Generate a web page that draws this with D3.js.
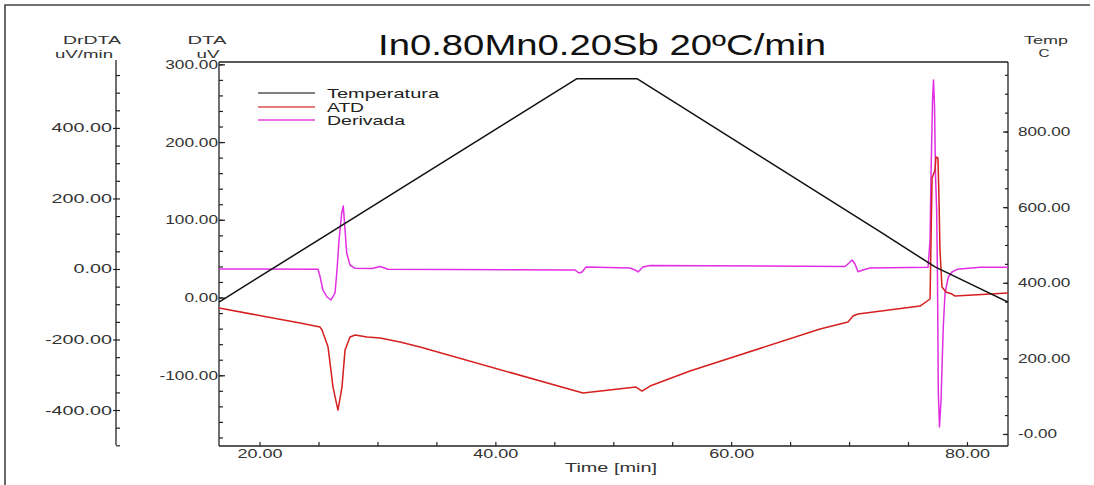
<!DOCTYPE html>
<html><head><meta charset="utf-8">
<script src="https://cdn.jsdelivr.net/npm/d3@7"></script>
<style>
body{margin:0;background:#fff}
text{font-family:"Liberation Sans",Arial,sans-serif}
</style>
</head><body>
<svg id="c" width="1094" height="485"></svg>
<script>
// ---------------- data ----------------
const chartTitle = "In0.80Mn0.20Sb 20ºC/min";
const seriesNames = ["Temperatura", "ATD", "Derivada"];

const tempTime   = [16.56, 46.92, 52.01, 72.62, 77.29, 83.48];
const tempValues = [349, 940, 940, 535, 442, 349];

const atdTime = [16.56, 23.43, 25.13, 25.30, 25.81, 26.23, 26.65, 26.99, 27.25, 27.67, 28.10, 29.11, 30.22, 31.91, 33.61,
  47.43, 51.93, 52.44, 53.12, 56.51, 67.54, 69.91, 70.33, 70.76, 76.02, 76.87, 76.95, 77.04, 77.29, 77.37, 77.54,
  77.63, 77.71, 77.88, 78.22, 78.73, 78.99, 83.48];
const atdValues = [-13.5, -32.8, -38.0, -41.8, -63.7, -115.2, -144.8, -115.2, -67.6, -50.8, -48.3, -50.8, -52.1, -57.2, -63.7,
  -122.9, -115.2, -120.3, -113.9, -94.6, -40.5, -31.5, -23.8, -21.2, -11.0, -1.9, 74.0, 153.8, 164.1, 180.8, 179.5,
  125.5, 61.1, 13.5, 7.1, 4.5, 1.9, 5.8];

const derTime = [16.56, 24.96, 25.13, 25.38, 25.72, 26.06, 26.40, 26.57, 26.74, 26.97, 27.10, 27.25, 27.39, 27.67, 28.10,
  29.54, 30.22, 30.89, 46.76, 47.09, 47.35, 47.69, 51.42, 51.84, 52.10, 52.52, 53.12, 69.66, 70.00, 70.25, 70.50,
  70.76, 71.18, 71.78, 76.70, 76.87, 76.95, 77.08, 77.16, 77.25, 77.33, 77.43, 77.50, 77.57, 77.67, 77.80, 77.99,
  78.14, 78.42, 78.73, 79.16, 81.11, 83.48];
const derValues = [0, -0.9, -21.8, -59.6, -79.4, -87.9, -68.1, -2.8, 82.3, 158.9, 178.7, 110.6, 45.4, 11.3, 2.0,
  1.4, 7.1, -0.9, -2.8, -11.3, -8.5, 5.7, 2.8, -2.8, -8.5, 5.7, 9.9, 7.1, 17.0, 25.5, 14.2,
  -7.7, -2.8, 2.8, 4.8, 82.3, 266.7, 479.4, 536.2, 459.6, 266.7, 167.4, -31.2, -351.8, -448.2, -371.6, -164.5,
  -68.1, -22.7, -8.5, -0.9, 4.8, 4.8];

const xDomain = [16.56, 83.48];
const dtaDomain = [-191, 303];
const drDomain = [-502, 587];
const tempDomain = [-31.8, 984];

const xTicks = [20, 40, 60, 80];
const xTickLabels = ["20.00", "40.00", "60.00", "80.00"];
const dtaTicks = [-100, 0, 100, 200, 300];
const dtaTickLabels = ["-100.00", "0.00", "100.00", "200.00", "300.00"];
const drTicks = [-400, -200, 0, 200, 400];
const drTickLabels = ["-400.00", "-200.00", "0.00", "200.00", "400.00"];
const tempTicks = [0, 200, 400, 600, 800];
const tempTickLabels = ["-0.00", "200.00", "400.00", "600.00", "800.00"];

// ---------------- layout ----------------
const L = 219, R = 1008, T = 62, B = 446;
const DRX = 116;
const svg = d3.select("#c");

const x = d3.scaleLinear().domain(xDomain).range([L, R]);
const yDTA = d3.scaleLinear().domain(dtaDomain).range([B, T]);
const yDr = d3.scaleLinear().domain(drDomain).range([B, T]);
const yT = d3.scaleLinear().domain(tempDomain).range([B, T]);

function stretch(sel, k) {
  sel.each(function () {
    const w = this.getComputedTextLength();
    if (w > 0) {
      this.setAttribute("textLength", (w * k).toFixed(1));
      this.setAttribute("lengthAdjust", "spacingAndGlyphs");
    }
  });
}
function styleAxis(g) {
  g.attr("font-family", null).attr("font-size", null);
  g.selectAll("path.domain").remove();
  g.selectAll("line").attr("stroke", "#222").attr("stroke-width", 1.2);
  g.selectAll("text").attr("fill", "#333").style("font-size", "12.5px");
}
const range = (a, b, s) => d3.range(a, b + s / 2, s);

// outer frame
svg.append("path").attr("d", `M5,485V5H1090`).attr("fill", "none").attr("stroke", "#444").attr("stroke-width", 1.6);

// plot frame lines
const axisColor = "#222";
svg.append("line").attr("x1", L).attr("x2", R).attr("y1", T).attr("y2", T).attr("stroke", axisColor).attr("stroke-width", 1.3);
svg.append("line").attr("x1", L).attr("x2", R).attr("y1", B).attr("y2", B).attr("stroke", axisColor).attr("stroke-width", 1.3);
svg.append("line").attr("x1", L).attr("x2", L).attr("y1", T).attr("y2", B).attr("stroke", axisColor).attr("stroke-width", 1.3);
svg.append("line").attr("x1", R).attr("x2", R).attr("y1", T).attr("y2", B).attr("stroke", axisColor).attr("stroke-width", 1.3);
svg.append("line").attr("x1", DRX).attr("x2", DRX).attr("y1", T - 2).attr("y2", B - 1).attr("stroke", axisColor).attr("stroke-width", 1.3);

// ---- DrDTA axis ----
svg.append("g").attr("transform", `translate(${DRX},0)`)
  .call(d3.axisRight(yDr).tickValues(range(-500, 550, 50)).tickSize(4).tickFormat(""))
  .call(styleAxis);
svg.append("g").attr("transform", `translate(${DRX},0)`)
  .call(d3.axisLeft(yDr).tickValues(drTicks).tickSize(3).tickPadding(1)
    .tickFormat((d, i) => drTickLabels[i]))
  .call(styleAxis)
  .call(g => stretch(g.selectAll("text"), 1.58));

// ---- DTA axis ----
svg.append("g").attr("transform", `translate(${L},0)`)
  .call(d3.axisRight(yDTA).tickValues(range(-180, 300, 20)).tickSize(4).tickFormat(""))
  .call(styleAxis);
svg.append("g").attr("transform", `translate(${L},0)`)
  .call(d3.axisRight(yDTA).tickValues(dtaTicks).tickSize(6).tickFormat(""))
  .call(styleAxis);
svg.append("g").attr("transform", `translate(${L},0)`)
  .call(d3.axisLeft(yDTA).tickValues(dtaTicks).tickSize(0).tickPadding(1)
    .tickFormat((d, i) => dtaTickLabels[i]))
  .call(styleAxis)
  .call(g => stretch(g.selectAll("text"), 1.38));

// ---- Temp axis ----
svg.append("g").attr("transform", `translate(${R},0)`)
  .call(d3.axisLeft(yT).tickValues(range(0, 950, 50)).tickSize(3).tickFormat(""))
  .call(styleAxis);
svg.append("g").attr("transform", `translate(${R},0)`)
  .call(d3.axisLeft(yT).tickValues(tempTicks).tickSize(5).tickFormat(""))
  .call(styleAxis);
svg.append("g").attr("transform", `translate(${R},0)`)
  .call(d3.axisRight(yT).tickValues(tempTicks).tickSize(0).tickPadding(10)
    .tickFormat((d, i) => tempTickLabels[i]))
  .call(styleAxis)
  .call(g => stretch(g.selectAll("text"), 1.37));

// ---- X axis ----
svg.append("g").attr("transform", `translate(0,${B})`)
  .call(d3.axisTop(x).tickValues(range(20, 80, 5)).tickSize(4).tickFormat(""))
  .call(styleAxis);
const xg = svg.append("g").attr("transform", `translate(0,${B})`)
  .call(d3.axisBottom(x).tickValues(xTicks).tickSize(0).tickPadding(2)
    .tickFormat((d, i) => xTickLabels[i]))
  .call(styleAxis);
xg.selectAll("text").attr("y", 12).attr("dy", null);
stretch(xg.selectAll("text"), 1.44);

// ---- axis titles ----
function label(txt, xx, yy, w, size, anchor, fill) {
  svg.append("text").attr("x", xx).attr("y", yy).attr("text-anchor", anchor || "middle")
    .attr("fill", fill || "#333").style("font-size", (size || 12.5) + "px")
    .attr("textLength", w).attr("lengthAdjust", "spacingAndGlyphs").text(txt);
}
label("DrDTA", 92, 44, 58, 11.5);
label("uV/min", 84, 57.5, 58, 11.5);
label("DTA", 207, 44, 39, 11.5);
label("uV", 208, 57.5, 23, 11.5);
label("Temp", 1046, 44, 44, 11.5);
label("C", 1044, 57, 11, 11.5);
label("Time [min]", 611, 472, 92);
label(chartTitle, 602, 55, 448, 29, "middle", "#111");

// ---- series ----
const defs = svg.append("defs");
defs.append("clipPath").attr("id", "clip").append("rect")
  .attr("x", L).attr("y", T).attr("width", R - L).attr("height", B - T);
const plot = svg.append("g").attr("clip-path", "url(#clip)");

const colors = ["#111111", "#d61f1f", "#e22ee2"];

const derLine = d3.line().x((d, i) => x(derTime[i])).y(d => yDr(d));
const atdLine = d3.line().x((d, i) => x(atdTime[i])).y(d => yDTA(d));
const tLine = d3.line().x((d, i) => x(tempTime[i])).y(d => yT(d));

plot.append("path").attr("d", derLine(derValues)).attr("fill", "none")
  .attr("stroke", colors[2]).attr("stroke-width", 1.5).attr("stroke-linejoin", "round");
plot.append("path").attr("d", atdLine(atdValues)).attr("fill", "none")
  .attr("stroke", colors[1]).attr("stroke-width", 1.5).attr("stroke-linejoin", "round");
plot.append("path").attr("d", tLine(tempValues)).attr("fill", "none")
  .attr("stroke", colors[0]).attr("stroke-width", 1.5).attr("stroke-linejoin", "round");

// ---- legend ----
const legY = [93, 107, 120];
const legW = [112, 37, 78];
const legColors = ["#555", "#e05050", "#e040e0"];
seriesNames.forEach((n, i) => {
  svg.append("line").attr("x1", 258).attr("x2", 315).attr("y1", legY[i]).attr("y2", legY[i])
    .attr("stroke", legColors[i]).attr("stroke-width", 1.3);
  svg.append("text").attr("x", 327).attr("y", legY[i] + 5).attr("fill", "#222")
    .style("font-size", "13.5px").attr("textLength", legW[i]).attr("lengthAdjust", "spacingAndGlyphs").text(n);
});
</script>
</body></html>
